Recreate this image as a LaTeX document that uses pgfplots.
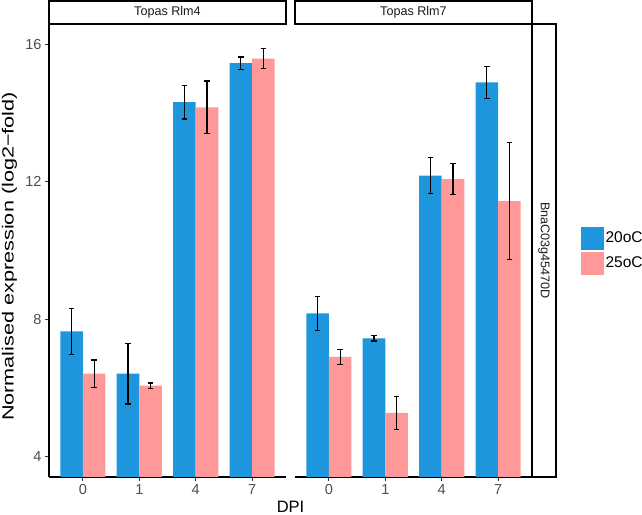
\documentclass[border=0pt]{standalone}
\usepackage{pgfplots}
\pgfplotsset{compat=1.18}
\usepackage{pgfplotstable}
\usepackage{graphicx}
\usepackage{fontspec}
\setmainfont{Liberation Sans}
\definecolor{c20}{HTML}{1E96DE}
\definecolor{c25}{HTML}{FF9999}
\definecolor{tickgray}{HTML}{4D4D4D}
\definecolor{striptext}{HTML}{1A1A1A}

\pgfplotstableread{
x b be p pe
0 7.64 0.67 6.41 0.40
1 6.41 0.88 6.06 0.08
2 14.32 0.49 14.17 0.77
3 15.46 0.18 15.59 0.29
}\rlmfour
\pgfplotstableread{
x b be p pe
0 8.17 0.50 6.90 0.22
1 7.44 0.08 5.27 0.48
2 12.18 0.53 12.08 0.45
3 14.90 0.47 11.44 1.70
}\rlmseven

\begin{document}
\begin{tikzpicture}
\useasboundingbox (0bp,0bp) rectangle (642bp,515bp);
\pgfplotsset{
  panel/.style={
    scale only axis, width=237bp, height=453bp, anchor=south west,
    xmin=-0.6, xmax=3.6, ymin=3.4, ymax=16.6,
    xtick={0,1,2,3}, xticklabels={0,1,4,7},
    ytick={4,8,12,16},
    tick align=outside, major tick length=4bp,
    tick style={line width=1bp, color=black!80},
    axis line style={-, line width=1.2bp, black},
    ticklabel style={font=\fontsize{14.5bp}{16bp}\selectfont, text=tickgray},
    /pgf/number format/assume math mode=true,
    clip=true,
  },
  barplot/.style={ybar, bar width=22.57bp, bar shift=0pt, draw=none, fill=#1, forget plot,
    error bars/.cd, y dir=both, y explicit, error mark=-,
    error bar style={line width=1.2bp, black},
    error mark options={rotate=90, line width=1.2bp, black, mark size=2.8bp}},
}
\begin{axis}[panel, at={(49bp,38bp)}, axis x line*=bottom, axis y line*=left]
\addplot[barplot=c20] table[x expr=\thisrow{x}-0.2, y=b, y error=be] {\rlmfour};
\addplot[barplot=c25] table[x expr=\thisrow{x}+0.2, y=p, y error=pe] {\rlmfour};
\end{axis}
\begin{axis}[panel, at={(295bp,38bp)}, axis x line*=bottom, axis y line=none,
  legend style={draw=none, fill=none, at={(1.2068,0.5)}, anchor=west, inner sep=0pt,
    row sep=2.4bp, column sep=2bp, font=\fontsize{15.5bp}{17bp}\selectfont,
    cells={anchor=west}, nodes={inner sep=0pt}}]
\addplot[barplot=c20] table[x expr=\thisrow{x}-0.2, y=b, y error=be] {\rlmseven};
\addplot[barplot=c25] table[x expr=\thisrow{x}+0.2, y=p, y error=pe] {\rlmseven};
\addlegendimage{legend image code/.code={\fill[c20] (0bp,-11bp) rectangle (22bp,11bp);}}
\addlegendentry{20oC}
\addlegendimage{legend image code/.code={\fill[c25] (0bp,-11bp) rectangle (22bp,11bp);}}
\addlegendentry{25oC}
\end{axis}
% strips
\draw[line width=1.2bp] (49bp,491bp) rectangle (286bp,514bp);
\draw[line width=1.2bp] (295bp,491bp) rectangle (532bp,514bp);
\draw[line width=1.2bp] (532bp,38bp) rectangle (556bp,491bp);
\node[font=\fontsize{12.6bp}{14bp}\selectfont, text=striptext] at (167.5bp,502.5bp) {Topas Rlm4};
\node[font=\fontsize{12.6bp}{14bp}\selectfont, text=striptext] at (413.5bp,502.5bp) {Topas Rlm7};
\node[font=\fontsize{12.6bp}{14bp}\selectfont, text=striptext, rotate=-90] at (544bp,264.5bp) {BnaC03g45470D};
% axis titles
\node[font=\fontsize{16.5bp}{18bp}\selectfont, anchor=base, inner sep=0pt] at (290.5bp,2.5bp) {DPI};
\node[font=\fontsize{16.2bp}{18bp}\selectfont, anchor=base, rotate=90, inner sep=0pt] at (13.5bp,258.5bp) {\resizebox{329bp}{\height}{Normalised expression (log2−fold)}};
\end{tikzpicture}
\end{document}
